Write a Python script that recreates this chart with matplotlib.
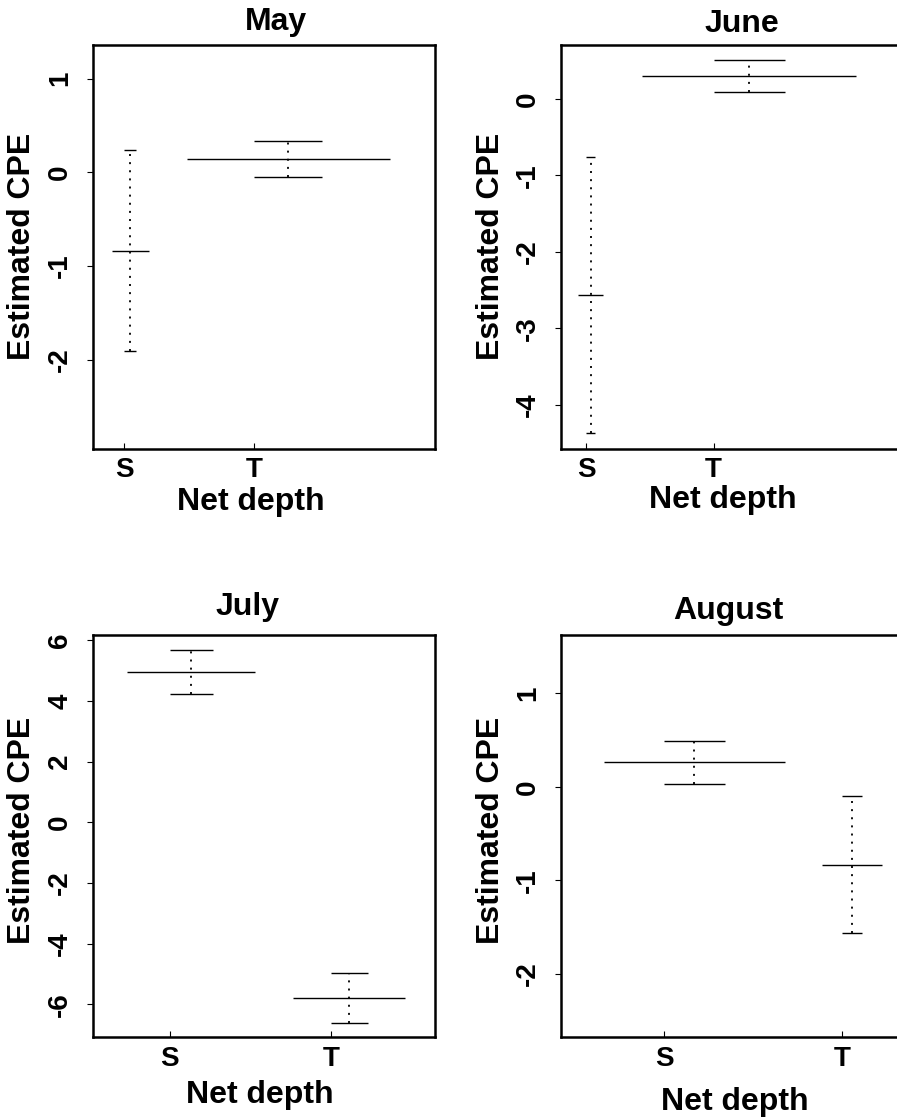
import numpy as np
import matplotlib
matplotlib.use("Agg")
import matplotlib.pyplot as plt

plt.rcParams['font.family'] = ['Liberation Sans', 'DejaVu Sans']
plt.rcParams['font.weight'] = 'bold'

# ---------------------------
# Data: estimated CPE per net depth, with interval bounds
# ---------------------------
months = ['May', 'June', 'July', 'August']
depths = ['S', 'T']

est_mean = [[-0.84, 0.14], [-2.565, 0.303], [4.96, -5.79], [0.264, -0.834]]
est_lower = [[-1.91, -0.045], [-4.37, 0.084], [4.23, -6.63], [0.031, -1.568]]
est_upper = [[0.237, 0.333], [-0.757, 0.509], [5.68, -4.955], [0.493, -0.10]]

y_ticks = [[-2, -1, 0, 1], [-4, -3, -2, -1, 0], [-6, -4, -2, 0, 2, 4, 6], [-2, -1, 0, 1]]

# ---------------------------
# Layout (pixels of the 897x1119 canvas) and per-panel scales
# ---------------------------
W, H = 897, 1119
axes_px = [(93.3, 45.4, 435, 449), (561, 45.4, 903, 449),
           (93.3, 635.4, 435, 1037.3), (561, 635.4, 903, 1037.3)]
xlims = [(0.764, 3.385), (0.80, 3.49), (0.525, 2.648), (0.42, 2.34)]
ylims = [(-2.953, 1.355), (-4.58, 0.70), (-7.09, 6.16), (-2.68, 1.62)]
# half-width of the cap (whisker offset from the category position)
bar_w = [[0.047, 0.26], [0.033, 0.28], [0.133, 0.116], [0.169, 0.056]]

title_px = [(276, 30), (742, 32), (248, 615), (728, 619)]
xlabel_px = [(251, 510), (723, 508), (260, 1103), (735, 1110)]
ylabel_px = [(22.5, 246), (491, 246), (22.5, 830), (491, 830)]

fig = plt.figure(figsize=(W / 100, H / 100), dpi=100)

for i, month in enumerate(months):
    x0, y0, x1, y1 = axes_px[i]
    ax = fig.add_axes([x0 / W, 1 - y1 / H, (x1 - x0) / W, (y1 - y0) / H])

    for j in range(len(depths)):
        w = bar_w[i][j]
        xc = (j + 1) + w
        # mean line, caps and dotted whisker
        ax.hlines(est_mean[i][j], xc - 3 * w, xc + 3 * w, color='black', lw=1.0)
        ax.hlines([est_lower[i][j], est_upper[i][j]], xc - w, xc + w, color='black', lw=1.0)
        ax.vlines(xc, est_lower[i][j], est_upper[i][j], color='black', lw=1.3,
                  linestyles=(0, (1.1, 3.4)))

    ax.set_xlim(*xlims[i])
    ax.set_ylim(*ylims[i])
    ax.set_xticks([1, 2])
    ax.set_xticklabels(depths)
    ax.set_yticks(y_ticks[i])
    ax.set_yticklabels([str(t) for t in y_ticks[i]])
    for lab in ax.get_yticklabels():
        lab.set_rotation(90)
        lab.set_va('center')
    ax.tick_params(axis='y', direction='out', length=4.5, width=0.8, pad=10, labelsize=20)
    ax.tick_params(axis='x', direction='in', length=4.5, width=0.8, pad=6, labelsize=20)
    for sp in ax.spines.values():
        sp.set_linewidth(1.8)

    fig.text(title_px[i][0] / W, 1 - title_px[i][1] / H, month,
             ha='center', va='baseline', fontsize=23, fontweight='bold')
    fig.text(xlabel_px[i][0] / W, 1 - xlabel_px[i][1] / H, 'Net depth',
             ha='center', va='baseline', fontsize=23, fontweight='bold')
    fig.text(ylabel_px[i][0] / W, 1 - ylabel_px[i][1] / H, 'Estimated CPE',
             ha='center', va='center', rotation=90, fontsize=23, fontweight='bold')

fig.savefig('out.png', dpi=100)
